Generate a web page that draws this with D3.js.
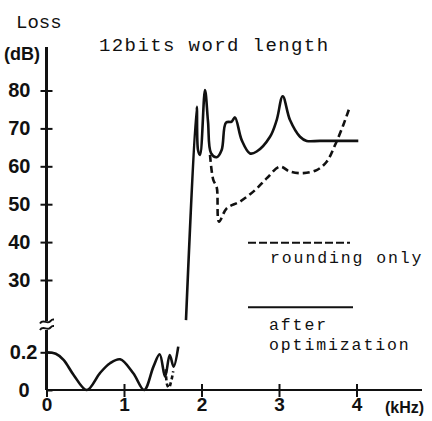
<!DOCTYPE html>
<html>
<head>
<meta charset="utf-8">
<script src="https://cdn.jsdelivr.net/npm/d3@7"></script>
<style>
  html, body { margin: 0; padding: 0; background: #fff; }
  svg { display: block; }
  .mono { font-family: "Liberation Mono", "Courier New", monospace; fill: #111; }
  .bold { font-family: "Liberation Sans", Arial, sans-serif; font-weight: bold; fill: #111; }
</style>
</head>
<body>
<svg id="chart" width="432" height="421"></svg>
<script>
// ---- data ----
const xTicks = [0, 1, 2, 3, 4];
const yTicksUpper = [30, 40, 50, 60, 70, 80];
const yTicksLower = [0, 0.2];
const yTickLabelsLower = ["0", "0.2"];

// passband ripple (dB, lower expanded scale)
const rippleSolidF = [0, 0.12, 0.22, 0.35, 0.52, 0.69, 0.82, 0.95, 1.12, 1.26, 1.38, 1.46, 1.53, 1.59, 1.64, 1.70];
const rippleSolidV = [0.2, 0.192, 0.16, 0.08, 0.0, 0.09, 0.142, 0.163, 0.089, 0.0, 0.124, 0.19, 0.07, 0.186, 0.124, 0.23];
const rippleDashF = [1.54, 1.555, 1.58, 1.605, 1.635];
const rippleDashV = [0.11, 0.03, 0.012, 0.04, 0.10];

// stopband loss (dB, upper scale)
const stopSolidF = [1.80, 1.938, 1.955, 1.981, 2.045, 2.084, 2.123, 2.196, 2.26, 2.316, 2.39, 2.432, 2.519, 2.626, 2.712, 2.884, 2.97, 3.048, 3.142, 3.271, 3.357, 3.529, 4.023];
const stopSolidV = [19.4, 75.7, 64.3, 63.0, 80.1, 71.8, 63.5, 62.4, 64.3, 71.5, 71.8, 72.9, 66.9, 63.4, 63.9, 67.8, 72.2, 78.5, 72.2, 67.8, 66.7, 66.7, 66.7];
const stopDashF = [2.11, 2.152, 2.196, 2.226, 2.325, 2.497, 2.69, 2.84, 3.013, 3.142, 3.314, 3.486, 3.615, 3.723, 3.83, 3.907];
const stopDashV = [63.0, 56.4, 54.5, 45.4, 48.9, 50.7, 53.7, 56.8, 59.9, 58.6, 58.2, 59.0, 61.2, 65.6, 70.9, 75.3];

const titleText = "12bits word length";
const legendLabels = ["rounding only", "after", "optimization"];

// ---- scales ----
const svg = d3.select("#chart");
const x = d3.scaleLinear().domain([0, 4]).range([46.5, 356.5]);
const yUp = d3.scaleLinear().domain([30, 80]).range([280, 90.5]);
const yLo = d3.scaleLinear().domain([0, 0.2]).range([390, 352.3]);

const zip = (a, b) => a.map((v, i) => [v, b[i]]);
const curve = d3.curveCatmullRom.alpha(0.5);
const lineUp = d3.line().x(d => x(d[0])).y(d => yUp(d[1])).curve(curve);
const lineLo = d3.line().x(d => x(d[0])).y(d => yLo(d[1])).curve(curve);

const strokeW = 2.6;
const dash = "7,4";

// ---- axes ----
// y axis line with break
svg.append("line").attr("x1", 46.5).attr("x2", 46.5).attr("y1", 47).attr("y2", 390)
  .attr("stroke", "#111").attr("stroke-width", 3);
svg.append("rect").attr("x", 40).attr("y", 321).attr("width", 14).attr("height", 9).attr("fill", "#fff");
[321.5, 328].forEach(yy => {
  svg.append("path")
    .attr("d", `M${40},${yy + 2} C${43},${yy - 3} ${47},${yy + 3} ${50},${yy} S${53},${yy - 2} ${54},${yy - 2}`)
    .attr("fill", "none").attr("stroke", "#111").attr("stroke-width", 2);
});

// upper y ticks
const gUp = svg.append("g").attr("transform", `translate(${x(0)},0)`)
  .call(d3.axisLeft(yUp).tickValues(yTicksUpper).tickSize(6).tickPadding(10).tickFormat(d3.format("d")));
gUp.select(".domain").remove();
gUp.selectAll(".tick line").attr("x1", -6).attr("x2", 6).attr("stroke", "#111").attr("stroke-width", 2);
gUp.selectAll(".tick text").attr("class", "bold").style("font-size", "20px").attr("font-family", null).attr("font-size", null);

// lower y ticks
const gLo = svg.append("g").attr("transform", `translate(${x(0)},0)`)
  .call(d3.axisLeft(yLo).tickValues(yTicksLower).tickSize(6).tickPadding(10).tickFormat((d, i) => yTickLabelsLower[i]));
gLo.select(".domain").remove();
gLo.selectAll(".tick line").attr("x1", (d) => d === 0 ? 0 : -6).attr("x2", 6).attr("stroke", "#111").attr("stroke-width", 2);
gLo.selectAll(".tick text").attr("class", "bold").style("font-size", "20px").attr("font-family", null).attr("font-size", null)
  .attr("x", d => d === 0 ? -17 : -9);

// x axis
svg.append("line").attr("x1", 46.5).attr("x2", 422).attr("y1", 390).attr("y2", 390)
  .attr("stroke", "#111").attr("stroke-width", 2.2);
const gX = svg.append("g").attr("transform", "translate(0,390)")
  .call(d3.axisBottom(x).tickValues(xTicks).tickSize(6).tickPadding(2).tickFormat(d3.format("d")));
gX.select(".domain").remove();
gX.selectAll(".tick line").attr("y1", d => d === 0 ? 0 : -6).attr("y2", 7).attr("stroke", "#111").attr("stroke-width", 2);
gX.selectAll(".tick text").attr("class", "bold").style("font-size", "19px").attr("font-family", null).attr("font-size", null);

svg.append("text").attr("class", "bold").attr("x", 385).attr("y", 413).style("font-size", "16px").text("(kHz)");

// ---- titles ----
svg.append("text").attr("class", "mono").attr("x", 16).attr("y", 28).style("font-size", "19px").text("Loss");
svg.append("text").attr("class", "bold").attr("x", 4).attr("y", 60).style("font-size", "18px").text("(dB)");
svg.append("text").attr("class", "mono").attr("x", 99).attr("y", 51).style("font-size", "19px")
  .style("letter-spacing", "1.4px").text(titleText);

// ---- data lines ----
svg.append("path").datum(zip(rippleSolidF, rippleSolidV)).attr("d", lineLo)
  .attr("fill", "none").attr("stroke", "#111").attr("stroke-width", strokeW).attr("stroke-linejoin", "round");
svg.append("path").datum(zip(rippleDashF, rippleDashV)).attr("d", lineLo)
  .attr("fill", "none").attr("stroke", "#111").attr("stroke-width", strokeW).attr("stroke-dasharray", "4,3");
svg.append("path").datum(zip(stopSolidF, stopSolidV)).attr("d", lineUp)
  .attr("fill", "none").attr("stroke", "#111").attr("stroke-width", strokeW).attr("stroke-linejoin", "round");
svg.append("path").datum(zip(stopDashF, stopDashV)).attr("d", lineUp)
  .attr("fill", "none").attr("stroke", "#111").attr("stroke-width", strokeW).attr("stroke-dasharray", dash);

// ---- legend ----
const legendFont = "16.5px", legendSpacing = "1.9px";
svg.append("line").attr("x1", 248).attr("x2", 350).attr("y1", 242.7).attr("y2", 242.7)
  .attr("stroke", "#111").attr("stroke-width", 2).attr("stroke-dasharray", "8,3");
svg.append("text").attr("class", "mono").attr("x", 270).attr("y", 263).style("font-size", legendFont)
  .style("letter-spacing", legendSpacing).text(legendLabels[0]);
svg.append("line").attr("x1", 248).attr("x2", 353).attr("y1", 307.3).attr("y2", 307.3)
  .attr("stroke", "#111").attr("stroke-width", 2);
svg.append("text").attr("class", "mono").attr("x", 269).attr("y", 330).style("font-size", legendFont)
  .style("letter-spacing", legendSpacing).text(legendLabels[1]);
svg.append("text").attr("class", "mono").attr("x", 269).attr("y", 350).style("font-size", legendFont)
  .style("letter-spacing", legendSpacing).text(legendLabels[2]);
</script>
</body>
</html>
